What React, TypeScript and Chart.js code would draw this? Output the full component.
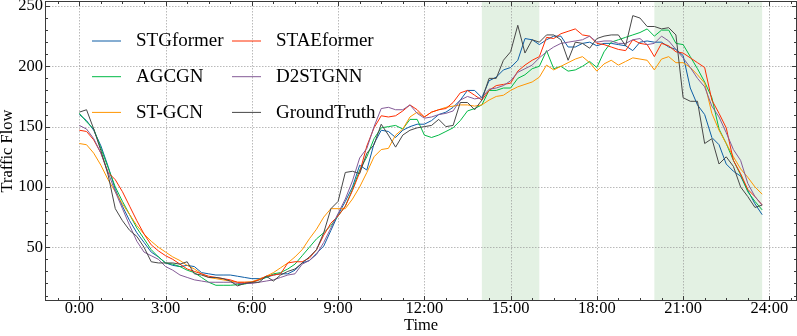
import React, { useEffect, useRef } from 'react';
import { Chart, registerables } from 'chart.js';

Chart.register(...registerables);

const FONT = "'Liberation Serif', 'Times New Roman', serif";
Chart.defaults.font.family = FONT;

// sampling step of the series (hours)
const STEP_HOURS = 0.25;

const seriesNames = ['STGformer', 'AGCGN', 'ST-GCN', 'STAEformer', 'D2STGNN', 'GroundTruth'];
const seriesColors = ['#0C5DA5', '#00B945', '#FF9500', '#FF2C00', '#845B97', '#474747'];

const stgformer = [
  160, 155, 147, 134, 117, 98, 84, 72, 62, 54,
  46, 42, 37, 35, 34, 35, 34, 29, 28, 27,
  27, 27, 26, 25, 24, 24, 25, 27, 28, 28,
  31, 37, 39, 45, 51, 64, 77, 88, 100, 118,
  114, 136, 147, 146, 141, 147, 150, 152, 152, 155,
  160, 162, 166, 172, 180, 180, 174, 188, 191, 197,
  199, 205, 223, 222, 218, 222, 225, 225, 216, 216,
  219, 220, 217, 219, 219, 218, 217, 213, 220, 221,
  220, 220, 216, 214, 209, 182, 168, 160, 141, 135,
  119, 113, 109, 97, 86, 77,
];

const agcgn = [
  161, 154, 148, 132, 116, 100, 88, 77, 66, 57,
  48, 42, 37, 36, 34, 31, 29, 25, 21, 18.5,
  18.5, 18.5, 19, 19.5, 21, 23, 25, 28, 29, 32,
  36, 43, 50, 57, 62, 68, 76, 84, 98, 114,
  125, 140, 149, 150, 151, 148, 156, 156, 143, 141,
  143, 146, 149, 155, 163, 165, 168, 180, 180, 182,
  182, 190, 193, 198, 200, 213, 198, 200, 196, 197,
  200, 204, 199, 212, 220, 222, 224, 226, 228, 231,
  225, 230, 230, 219, 218, 208, 198, 187, 174, 148,
  136, 122, 110, 96, 88, 81,
];

const stgcn = [
  136, 135, 128, 118, 106, 96, 86, 77, 68, 61,
  55, 50, 46, 42, 39, 35, 32, 28, 25, 24,
  23, 22, 21, 21, 21.5, 23.5, 26, 29, 33, 37,
  42, 48, 57, 65, 75, 82, 82, 82, 90, 100,
  112, 125, 131, 132, 143, 148, 158, 162, 158, 162,
  164, 166, 167, 168, 168, 167, 168, 172, 175, 176,
  180, 183, 185, 187, 191, 201, 197, 200, 203, 206,
  208, 203, 196, 202, 205, 201, 204, 207, 206, 205,
  197, 206, 208, 203, 203, 199, 193, 186, 161, 147,
  136, 125, 115, 108, 100, 94,
];

const staeformer = [
  147, 146, 139, 128, 112, 106, 96, 84, 72, 61,
  52, 47, 43, 40, 36, 32, 30, 28, 26, 25,
  24, 23, 21, 21, 21, 23, 26, 27, 28, 37,
  38, 38, 41, 48, 60, 70, 76, 84, 97, 112,
  134, 149, 159, 158, 159, 163, 168, 164, 158, 162,
  164, 165, 170, 178, 180, 176, 172, 180, 184, 185,
  186, 196, 201, 205, 208, 224, 223, 227, 229, 231,
  226, 225, 219, 218, 216, 214, 213, 222, 219, 218,
  208, 219, 217, 212, 211, 207, 203, 199, 172, 161,
  149, 122, 111, 98, 92, 85,
];

const d2stgnn = [
  151, 148, 140, 128, 112, 96, 82, 68, 55, 46,
  43, 40, 34, 31, 27, 25, 23, 22, 21, 21,
  21, 21, 20, 20, 20, 21, 22, 23, 25, 27,
  28, 36, 39, 44, 54, 66, 78, 90, 105, 124,
  132, 150, 165, 166, 164, 164, 168, 161, 157, 158,
  160, 161, 163, 172, 175, 173, 174, 181, 182, 184,
  188, 195, 198, 201, 207, 212, 216, 219, 220, 221,
  222, 225, 220, 221, 221, 219, 219, 222, 223, 218,
  219, 225, 221, 214, 207, 199, 190, 183, 167, 158,
  145, 131, 122, 103, 92, 85,
];

const groundTruth = [
  162, 164, 148, 130, 110, 82, 72, 64, 59, 50,
  38, 37, 37, 37, 36, 38, 28, 27, 25, 25,
  24, 22, 18, 20, 21, 21, 26, 22, 27, 30,
  32, 37, 42, 48, 62, 82, 88, 112, 113, 111,
  128, 135, 152, 143, 133, 143, 147, 149, 150, 151,
  156, 150, 151, 170, 170, 164, 172, 190, 190, 205,
  212, 234, 211, 222, 220, 226, 226, 222, 205, 220,
  219, 215, 223, 225, 226, 226, 217, 242, 240, 233,
  233, 231, 232, 226, 174, 171, 171, 136, 140, 119,
  125, 117, 100, 92, 83, 85,
];

const xTickHours = [0, 3, 6, 9, 12, 15, 18, 21, 24];
const xMinorStep = 0.75;
const yTickValues = [50, 100, 150, 200, 250];
const yMinorStep = 10;
const shadedWindows = [
  [14, 16],
  [20, 23.75],
];

const X_MIN = -1.16;
const X_MAX = 24.927;
const Y_MIN = 6.3;
const Y_MAX = 253.3;

const AXIS_COLOR = '#3a3a3a';

const framePlugin = {
  id: 'framePlugin',
  beforeDatasetsDraw(chart: any) {
    const { ctx, chartArea: a, scales } = chart;
    const x = scales.x;
    const y = scales.y;
    ctx.save();
    ctx.fillStyle = 'rgba(0,128,0,0.11)';
    for (const [s, e] of shadedWindows) {
      const x0 = x.getPixelForValue(s);
      const x1 = x.getPixelForValue(e);
      ctx.fillRect(x0, a.top, x1 - x0, a.bottom - a.top);
    }
    ctx.strokeStyle = 'rgba(140,140,140,0.75)';
    ctx.lineWidth = 0.8;
    ctx.setLineDash([1.5, 1.5]);
    for (const v of xTickHours) {
      const px = Math.round(x.getPixelForValue(v)) + 0.5;
      ctx.beginPath();
      ctx.moveTo(px, a.top);
      ctx.lineTo(px, a.bottom);
      ctx.stroke();
    }
    for (const v of yTickValues) {
      const py = Math.round(y.getPixelForValue(v)) + 0.5;
      ctx.beginPath();
      ctx.moveTo(a.left, py);
      ctx.lineTo(a.right, py);
      ctx.stroke();
    }
    ctx.restore();
  },
  afterDraw(chart: any) {
    const { ctx, chartArea: a, scales } = chart;
    const x = scales.x;
    const y = scales.y;
    ctx.save();
    ctx.setLineDash([]);
    ctx.strokeStyle = AXIS_COLOR;
    ctx.lineWidth = 1;
    const L = a.left - 0.5;
    const R = a.right + 0.5;
    const T = a.top - 0.5;
    const B = a.bottom + 0.5;
    ctx.strokeRect(L, T, R - L, B - T);

    const MAJ = 4.5;
    const MIN = 2.5;
    const tick = (x0: number, y0: number, x1: number, y1: number) => {
      ctx.beginPath();
      ctx.moveTo(x0, y0);
      ctx.lineTo(x1, y1);
      ctx.stroke();
    };
    for (let v = Math.ceil(X_MIN / xMinorStep) * xMinorStep; v <= X_MAX; v += xMinorStep) {
      const isMajor = xTickHours.some((t) => Math.abs(t - v) < 1e-6);
      const len = isMajor ? MAJ : MIN;
      const px = Math.round(x.getPixelForValue(v)) + 0.5;
      tick(px, B, px, B - len);
      tick(px, T, px, T + len);
    }
    for (let v = Math.ceil(Y_MIN / yMinorStep) * yMinorStep; v <= Y_MAX; v += yMinorStep) {
      const isMajor = yTickValues.some((t) => Math.abs(t - v) < 1e-6);
      const len = isMajor ? MAJ : MIN;
      const py = Math.round(y.getPixelForValue(v)) + 0.5;
      tick(L, py, L + len, py);
      tick(R, py, R - len, py);
    }

    // legend (2 columns, column-major)
    ctx.font = `19px ${FONT}`;
    ctx.textBaseline = 'middle';
    ctx.textAlign = 'left';
    const colHandleX = [a.left + 46, a.left + 186];
    const colTextX = [a.left + 90, a.left + 230];
    const rowY = [a.top + 39, a.top + 74.7, a.top + 110.4];
    seriesNames.forEach((name, i) => {
      const col = Math.floor(i / 3);
      const row = i % 3;
      const yy = rowY[row];
      ctx.strokeStyle = seriesColors[i];
      ctx.lineWidth = 1;
      tick(colHandleX[col], yy, colHandleX[col] + 29, yy);
      ctx.fillStyle = '#000';
      ctx.fillText(name, colTextX[col], yy + 0.5);
    });
    ctx.restore();
  },
};

export default function App() {
  const ref = useRef<HTMLCanvasElement>(null);

  useEffect(() => {
    document.body.style.margin = '0';
    const allSeries = [stgformer, agcgn, stgcn, staeformer, d2stgnn, groundTruth];
    const datasets = allSeries.map((vals, i) => ({
      label: seriesNames[i],
      data: vals.map((v, k) => ({ x: k * STEP_HOURS, y: v })),
      borderColor: seriesColors[i],
      backgroundColor: seriesColors[i],
      borderWidth: 1,
      pointRadius: 0,
      pointHoverRadius: 0,
      fill: false,
      tension: 0,
      order: allSeries.length - 1 - i,
    }));

    const tickFont = { family: FONT, size: 16.5, lineHeight: 1.1 };

    const chart = new Chart(ref.current as HTMLCanvasElement, {
      type: 'line',
      data: { datasets },
      options: {
        responsive: false,
        animation: false,
        devicePixelRatio: 1,
        events: [],
        layout: { padding: { top: 2, right: 1, left: 0, bottom: 0 } },
        plugins: {
          legend: { display: false },
          tooltip: { enabled: false },
        },
        scales: {
          x: {
            type: 'linear',
            min: X_MIN,
            max: X_MAX,
            afterBuildTicks: (s: any) => {
              s.ticks = xTickHours.map((v) => ({ value: v }));
            },
            ticks: {
              callback: (v: any) => `${v}:00`,
              font: tickFont,
              color: '#000',
              padding: 0,
              maxRotation: 0,
              autoSkip: false,
            },
            grid: { display: false, drawTicks: false },
            border: { display: false },
            title: {
              display: true,
              text: 'Time',
              font: { family: FONT, size: 16.5, lineHeight: 1.2 },
              color: '#000',
              padding: 0,
            },
            afterFit: (s: any) => {
              s.height = 36;
              s.paddingLeft = 0;
              s.paddingRight = 0;
            },
          },
          y: {
            type: 'linear',
            min: Y_MIN,
            max: Y_MAX,
            afterBuildTicks: (s: any) => {
              s.ticks = yTickValues.map((v) => ({ value: v }));
            },
            ticks: {
              font: tickFont,
              color: '#000',
              padding: 3,
              autoSkip: false,
            },
            grid: { display: false, drawTicks: false },
            border: { display: false },
            title: {
              display: true,
              text: 'Traffic Flow',
              font: { family: FONT, size: 16.5, lineHeight: 0.9 },
              color: '#000',
              padding: 0,
            },
            afterFit: (s: any) => {
              s.width = 46;
              s.paddingTop = 0;
              s.paddingBottom = 0;
            },
          },
        },
      },
      plugins: [framePlugin],
    });
    return () => chart.destroy();
  }, []);

  return (
    <div style={{ width: 797, height: 336 }}>
      <canvas ref={ref} width={797} height={336} style={{ display: 'block' }} />
    </div>
  );
}
